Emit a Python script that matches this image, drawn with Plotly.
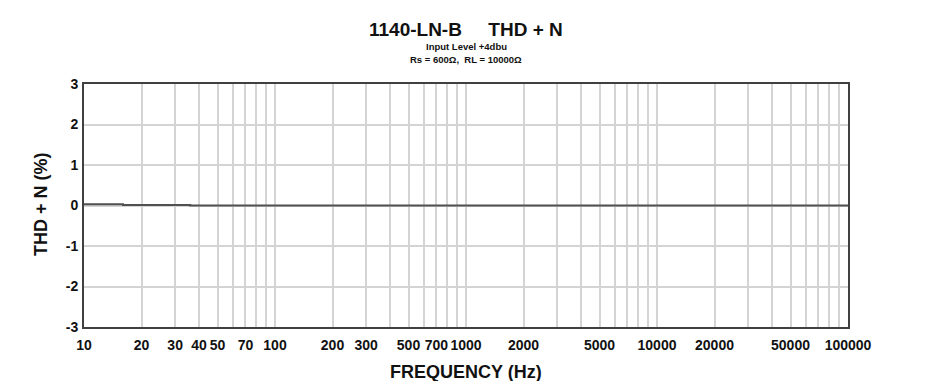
import plotly.graph_objects as go

# Data
freq_hz = [10, 12, 15, 16, 20, 25, 30, 36, 40, 50, 100, 200, 500, 1000, 2000, 5000, 10000, 20000, 50000, 100000]
thd_n_pct = [0.03, 0.03, 0.03, 0.01, 0.01, 0.01, 0.01, 0.0, 0.0, 0.0, 0.0, 0.0, 0.0, 0.0, 0.0, 0.0, 0.0, 0.0, 0.0, 0.0]

grid_freqs = [m * 10 ** d for d in range(1, 5) for m in range(1, 10)] + [100000]
labeled_freqs = [10, 20, 30, 40, 50, 70, 100, 200, 300, 500, 700, 1000, 2000, 5000,
                 10000, 20000, 50000, 100000]
y_ticks = [-3, -2, -1, 0, 1, 2, 3]

title_main = "1140-LN-B     THD + N"
subtitle_1 = "Input Level +4dbu"
subtitle_2 = "Rs = 600Ω,  RL = 10000Ω"
x_title = "FREQUENCY (Hz)"
y_title = "THD + N (%)"

FONT = "Liberation Sans, Arial, sans-serif"

fig = go.Figure()
fig.add_trace(go.Scatter(
    x=freq_hz, y=thd_n_pct, mode="lines",
    line=dict(color="#505050", width=2, shape="hv"),
    showlegend=False, hoverinfo="skip",
))

ticktext = [("<b>%d</b>" % f) if f in labeled_freqs else "" for f in grid_freqs]

fig.update_layout(
    width=934, height=381,
    margin=dict(l=84, r=86, t=84, b=54),
    paper_bgcolor="white", plot_bgcolor="white",
    font=dict(family=FONT, color="#111111"),
    xaxis=dict(
        type="log", range=[1, 5],
        tickmode="array", tickvals=grid_freqs, ticktext=ticktext,
        tickfont=dict(size=14, family=FONT, color="#111111"),
        ticks="outside", ticklen=4, tickcolor="rgba(0,0,0,0)",
        showgrid=True, gridcolor="#d4d4d4", gridwidth=1.5,
        showline=True, linecolor="#404040", linewidth=2, mirror=True,
        zeroline=False,
    ),
    yaxis=dict(
        range=[-3, 3], tickmode="array", tickvals=y_ticks,
        ticktext=["<b>%d</b>" % v for v in y_ticks],
        tickfont=dict(size=14, family=FONT, color="#111111"),
        ticks="outside", ticklen=1, tickcolor="rgba(0,0,0,0)",
        showgrid=True, gridcolor="#d4d4d4", gridwidth=1.5,
        showline=True, linecolor="#404040", linewidth=2, mirror=True,
        zeroline=False,
    ),
)

def paper_y(px):
    return (327 - px) / 243.0

def paper_x(px):
    return (px - 84) / 764.0

annots = [
    dict(text="<b>%s</b>" % title_main, x=paper_x(466), y=paper_y(29), size=19),
    dict(text="<b>%s</b>" % subtitle_1, x=paper_x(466), y=paper_y(47), size=9.5),
    dict(text="<b>%s</b>" % subtitle_2, x=paper_x(466), y=paper_y(59.5), size=9.5),
    dict(text="<b>%s</b>" % x_title, x=paper_x(466), y=paper_y(372), size=18),
]
for a in annots:
    fig.add_annotation(text=a["text"], x=a["x"], y=a["y"], xref="paper", yref="paper",
                       xanchor="center", yanchor="middle", showarrow=False,
                       font=dict(size=a["size"], family=FONT, color="#111111"))
fig.add_annotation(text="<b>%s</b>" % y_title, x=paper_x(41), y=paper_y(204),
                   xref="paper", yref="paper", xanchor="center", yanchor="middle",
                   textangle=-90, showarrow=False,
                   font=dict(size=18, family=FONT, color="#111111"))

fig.write_html("out.html")
